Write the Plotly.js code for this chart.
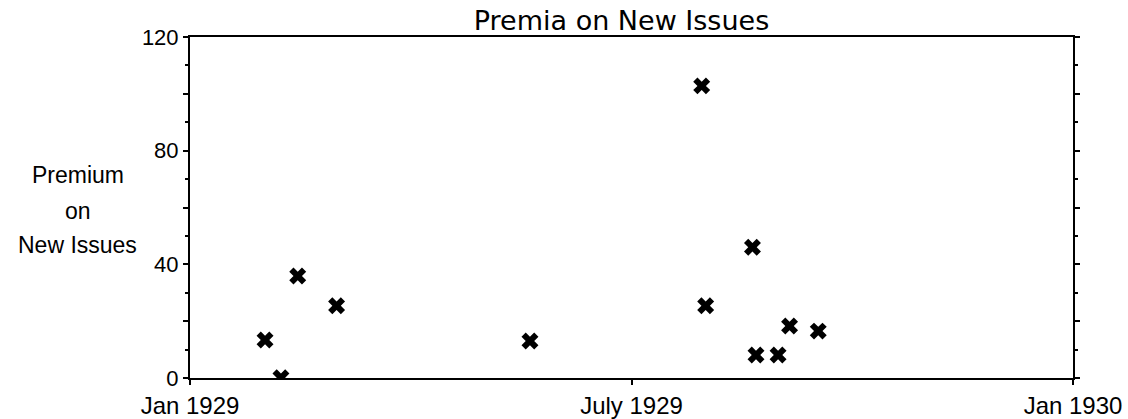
<!DOCTYPE html>
<html>
<head>
<meta charset="utf-8">
<script src="https://cdn.plot.ly/plotly-3.0.1.min.js"></script>
<style>
  html, body { margin: 0; padding: 0; background: #fff; }
  #chart { width: 1128px; height: 419px; }
</style>
</head>
<body>
<div id="chart"></div>
<script>
// Dates as decimal years
const issueDates = [1929.085, 1929.103, 1929.122, 1929.166, 1929.385, 1929.5795, 1929.584, 1929.637, 1929.641, 1929.666, 1929.679, 1929.7115];
const premiums   = [13.4, 0.1, 35.9, 25.4, 13.0, 102.8, 25.4, 46.0, 8.1, 8.1, 18.3, 16.5];

const xTickVals = [1929, 1929.5, 1930];
const xTickText = ['Jan 1929', 'July 1929', 'Jan 1930'];
const yTickVals = [0, 20, 40, 60, 80, 100, 120];
const yTickText = ['0', '', '40', '', '80', '', '120'];
const yTitleLines = ['Premium', 'on', 'New Issues'];

const trace = {
  x: issueDates,
  y: premiums,
  type: 'scatter',
  mode: 'markers',
  marker: { symbol: 'x', size: 15, color: '#000', line: { width: 0 } },
  hoverinfo: 'x+y'
};

const yTitlePos = [0.595, 0.490, 0.390];
const annotations = yTitleLines.map((t, i) => ({
  text: t, xref: 'paper', yref: 'paper', x: -0.127, y: yTitlePos[i],
  xanchor: 'center', yanchor: 'middle', showarrow: false,
  font: { family: 'Liberation Sans, Arial, sans-serif', size: 23, color: '#000' }
}));

const layout = {
  width: 1128, height: 419,
  margin: { l: 190, r: 55, t: 37, b: 41 },
  paper_bgcolor: '#fff', plot_bgcolor: '#fff',
  showlegend: false,
  title: {
    text: 'Premia on New Issues',
    font: { family: 'DejaVu Sans, sans-serif', size: 27, color: '#000' },
    x: 0.551, xanchor: 'center', xref: 'container',
    y: 0.952, yanchor: 'middle', yref: 'container'
  },
  xaxis: {
    range: [1929, 1930],
    tickmode: 'array', tickvals: xTickVals, ticktext: xTickText,
    showgrid: false, zeroline: false,
    showline: true, linecolor: '#000', linewidth: 2, mirror: true,
    ticks: 'outside', ticklen: 5, tickwidth: 2, tickcolor: '#000',
    tickfont: { family: 'Liberation Sans, Arial, sans-serif', size: 24, color: '#000' },
    fixedrange: true
  },
  yaxis: {
    range: [0, 120],
    tickmode: 'array', tickvals: yTickVals, ticktext: yTickText,
    showgrid: false, zeroline: false,
    showline: true, linecolor: '#000', linewidth: 2, mirror: 'ticks',
    ticks: 'outside', ticklen: 5, tickwidth: 2, tickcolor: '#000',
    minor: { dtick: 10, ticks: 'outside', ticklen: 3, tickwidth: 2, tickcolor: '#000', showgrid: false },
    tickfont: { family: 'Liberation Sans, Arial, sans-serif', size: 22, color: '#000' },
    fixedrange: true
  },
  annotations: annotations
};

Plotly.newPlot('chart', [trace], layout, { displayModeBar: false, staticPlot: true });
</script>
</body>
</html>
